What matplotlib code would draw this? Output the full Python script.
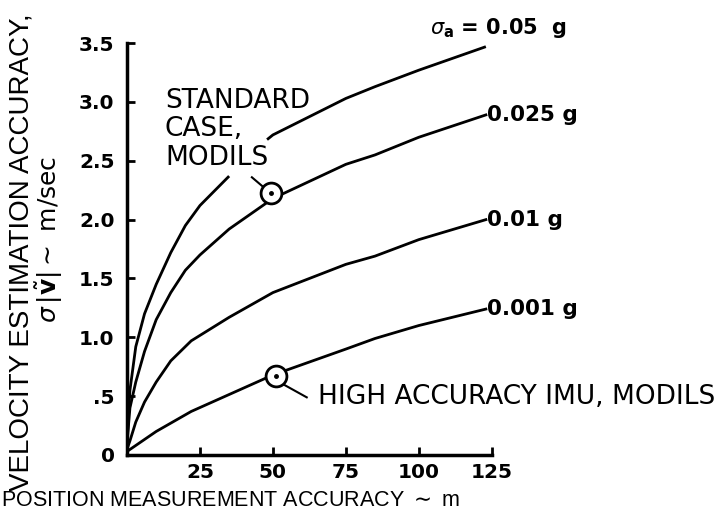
import numpy as np
import matplotlib.pyplot as plt

plt.rcParams['font.family'] = ['DejaVu Sans']
plt.rcParams['mathtext.fontset'] = 'dejavusans'

# position measurement accuracy (m) vs velocity estimation accuracy (m/sec)
x_05 = [0, 1, 3, 6, 10, 15, 20, 25, 35, 48, 50, 75, 85, 100, 123]
y_05 = [0.1, 0.55, 0.92, 1.2, 1.45, 1.72, 1.95, 2.12, 2.37, 2.68, 2.72, 3.03, 3.13, 3.27, 3.47]

x_025 = [0, 1, 3, 6, 10, 15, 20, 25, 35, 50, 75, 85, 100, 123]
y_025 = [0.1, 0.4, 0.62, 0.88, 1.15, 1.38, 1.57, 1.7, 1.92, 2.18, 2.47, 2.55, 2.7, 2.89]

x_01 = [0, 1, 3, 6, 10, 15, 22, 35, 50, 75, 85, 100, 123]
y_01 = [0.05, 0.12, 0.28, 0.45, 0.62, 0.8, 0.97, 1.17, 1.38, 1.62, 1.69, 1.83, 2.0]

x_001 = [0, 10, 22, 50, 75, 85, 100, 123]
y_001 = [0.03, 0.2, 0.37, 0.68, 0.9, 0.99, 1.1, 1.24]

curve_labels = ["0.025 g", "0.01 g", "0.001 g"]

fig = plt.figure(figsize=(7.25, 5.26), dpi=100)
ax = fig.add_axes([0.1752, 0.135, 0.503, 0.783])

lw = 2.0
# 0.05 g curve has a gap where the standard case label sits
x5 = np.array(x_05, dtype=float)
y5 = np.array(y_05, dtype=float)
m = x5 <= 35
ax.plot(x5[m], y5[m], color='black', lw=lw, solid_capstyle='butt')
m = x5 >= 48
ax.plot(x5[m], y5[m], color='black', lw=lw, solid_capstyle='butt')
ax.plot(x_025, y_025, color='black', lw=lw)
ax.plot(x_01, y_01, color='black', lw=lw)
ax.plot(x_001, y_001, color='black', lw=lw)

# marked cases
for px, py in [(49.5, 2.23), (51, 0.67)]:
    ax.plot(px, py, 'o', ms=15, mfc='white', mec='black', mew=2.0, zorder=5)
    ax.plot(px, py, 'o', ms=2.5, color='black', zorder=6)

ax.plot([46.6, 42.8], [2.28, 2.36], color='black', lw=1.5)
ax.plot([53.6, 61.6], [0.6, 0.49], color='black', lw=1.5)

ax.text(13, 3.12, "STANDARD\nCASE,\nMODILS", fontsize=19, linespacing=1.12, va='top')
ax.text(65.5, 0.49, "HIGH ACCURACY IMU, MODILS", fontsize=19, va='center', clip_on=False)

ax.text(103.8, 3.63, r"$\sigma_{\mathregular{a}}$ = 0.05  g", fontsize=15, fontweight='bold',
        va='center', clip_on=False)
for yy, lab in zip([y_025[-1], y_01[-1], y_001[-1]], curve_labels):
    ax.text(123.3, yy, lab, fontsize=15.5, fontweight='bold', va='center', clip_on=False)

ax.set_xlim(0, 125)
ax.set_ylim(0, 3.5)
ax.set_xticks([25, 50, 75, 100, 125])
ax.set_xticklabels(['25', '50', '75', '100', '125'])
ax.set_yticks([0, 0.5, 1.0, 1.5, 2.0, 2.5, 3.0, 3.5])
ax.set_yticklabels(['0', '.5', '1.0', '1.5', '2.0', '2.5', '3.0', '3.5'])
ax.tick_params(direction='in', length=6, width=2, labelsize=14.5)
ax.tick_params(axis='y', pad=9)
ax.tick_params(axis='x', pad=6)
for t in ax.get_xticklabels() + ax.get_yticklabels():
    t.set_fontweight('bold')

for s in ['top', 'right']:
    ax.spines[s].set_visible(False)
for s in ['left', 'bottom']:
    ax.spines[s].set_linewidth(2.5)

fig.text(0.002, 0.049, r"POSITION MEASUREMENT ACCURACY $\sim$ m", fontsize=15.5,
         family='Liberation Sans', ha='left', va='center')
fig.text(0.03, 0.52, "VELOCITY ESTIMATION ACCURACY,", fontsize=20, family='Liberation Sans',
         rotation=90, ha='center', va='center')
fig.text(0.068, 0.544, r"$\sigma\,|\tilde{\mathbf{v}}| \sim$ m/sec", fontsize=18, rotation=90,
         ha='center', va='center')

fig.savefig("out.png", dpi=100)
